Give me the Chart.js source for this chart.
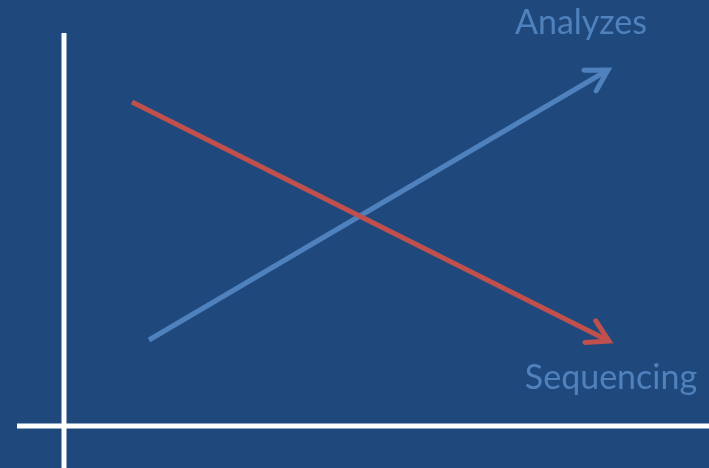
<!DOCTYPE html>
<html lang="en">

<head>
  <meta charset="UTF-8">
  <title>Analyzes vs Sequencing</title>
  <script src="https://cdn.jsdelivr.net/npm/chart.js"></script>
  <style>
    html, body {
      margin: 0;
      padding: 0;
      background: #1F497D;
      overflow: hidden;
    }
    canvas {
      display: block;
    }
  </style>
</head>

<body>
  <canvas id="trend-chart" width="709" height="468"></canvas>

  <script>
    // Values (x to the right, y downward, in pixels of the 709x468 frame)
    const seriesNames = ['Analyzes', 'Sequencing'];
    const analyzesX = [149, 608];
    const analyzesY = [340, 70];
    const sequencingX = [132, 609];
    const sequencingY = [102, 341];

    // The two white axes
    const yAxisX = [64, 64];
    const yAxisY = [33, 468];
    const xAxisX = [17, 709];
    const xAxisY = [426, 426];

    function toPoints(xs, ys) {
      return xs.map((x, i) => ({ x: x, y: ys[i] }));
    }

    // Draws an open arrowhead at the end of each flagged dataset and its label
    const arrowPlugin = {
      id: 'arrows',
      afterDatasetsDraw(chart) {
        const ctx = chart.ctx;
        chart.data.datasets.forEach((ds, i) => {
          if (!ds.arrow) return;
          const pts = chart.getDatasetMeta(i).data;
          const a = pts[pts.length - 2];
          const b = pts[pts.length - 1];
          const ang = Math.atan2(b.y - a.y, b.x - a.x);
          const len = 24;
          const spread = Math.PI / 6;
          ctx.save();
          ctx.strokeStyle = ds.borderColor;
          ctx.lineWidth = ds.borderWidth;
          ctx.lineJoin = 'miter';
          ctx.lineCap = 'round';
          ctx.beginPath();
          ctx.moveTo(b.x - len * Math.cos(ang - spread), b.y - len * Math.sin(ang - spread));
          ctx.lineTo(b.x, b.y);
          ctx.lineTo(b.x - len * Math.cos(ang + spread), b.y - len * Math.sin(ang + spread));
          ctx.stroke();

          // label near the arrow tip
          ctx.fillStyle = '#4F81BD';
          ctx.font = '34px Lato, "Open Sans", sans-serif';
          ctx.textAlign = 'center';
          ctx.textBaseline = 'alphabetic';
          ctx.fillText(ds.label, b.x + ds.labelOffset[0], b.y + ds.labelOffset[1]);
          ctx.restore();
        });
      }
    };

    function createChart(chartId) {
      const chartElement = document.getElementById(chartId);
      new Chart(chartElement, {
        type: 'line',
        data: {
          datasets: [
            {
              label: 'y-axis',
              data: toPoints(yAxisX, yAxisY),
              borderColor: '#FFFFFF',
              borderWidth: 5
            },
            {
              label: 'x-axis',
              data: toPoints(xAxisX, xAxisY),
              borderColor: '#FFFFFF',
              borderWidth: 5
            },
            {
              label: seriesNames[1],
              data: toPoints(sequencingX, sequencingY),
              borderColor: '#C0504D',
              borderWidth: 5,
              arrow: true,
              labelOffset: [2, 48]
            },
            {
              label: seriesNames[0],
              data: toPoints(analyzesX, analyzesY),
              borderColor: '#4F81BD',
              borderWidth: 5,
              arrow: true,
              labelOffset: [-27, -36]
            }
          ]
        },
        options: {
          responsive: false,
          animation: false,
          devicePixelRatio: 1,
          layout: { padding: 0 },
          elements: {
            point: { radius: 0, hoverRadius: 0 },
            line: { tension: 0, borderCapStyle: 'butt', fill: false }
          },
          datasets: { line: { clip: false } },
          plugins: {
            legend: { display: false },
            tooltip: { enabled: false }
          },
          scales: {
            x: { type: 'linear', min: 0, max: 709, display: false },
            y: { type: 'linear', min: 0, max: 468, reverse: true, display: false }
          }
        },
        plugins: [arrowPlugin]
      });
    }

    createChart('trend-chart');
  </script>
</body>

</html>
